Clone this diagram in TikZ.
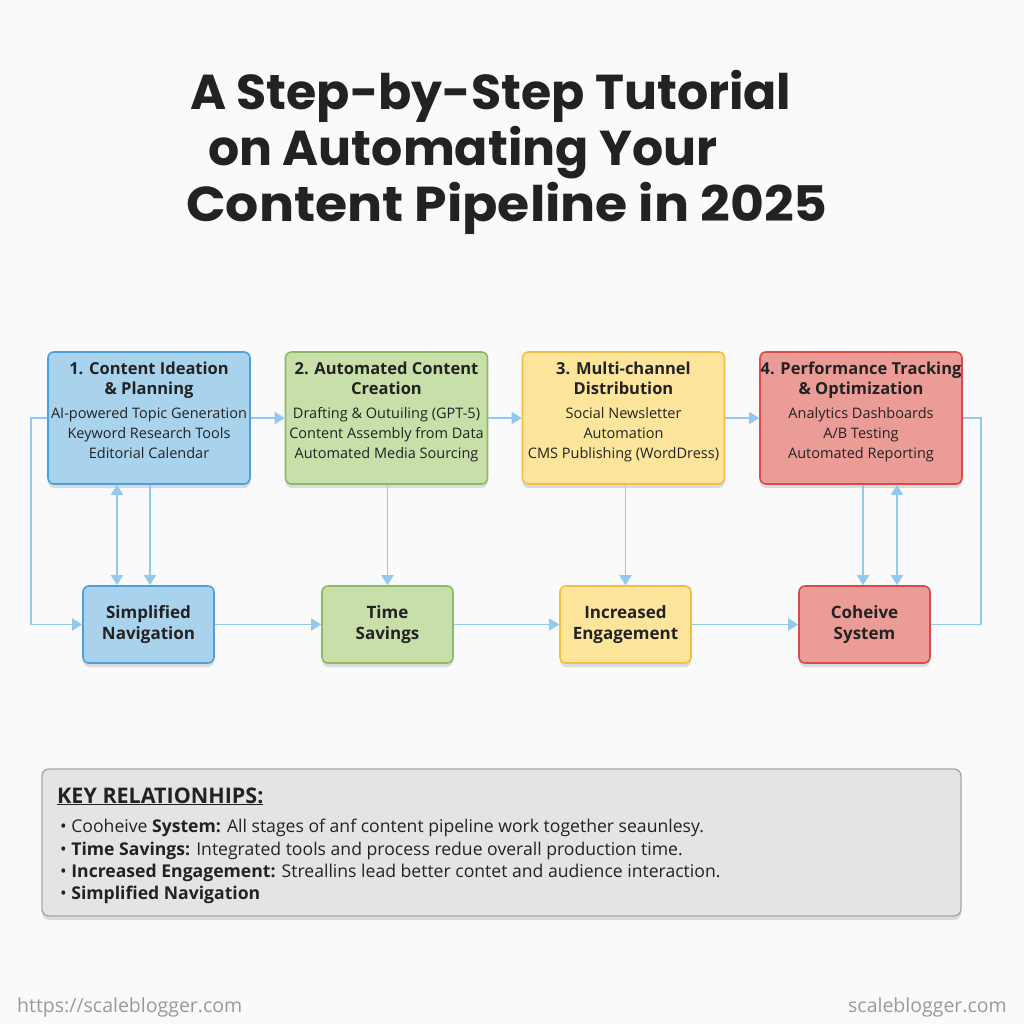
\documentclass[tikz,border=0pt]{standalone}
\usepackage{fontspec}
\setmainfont{Open Sans}
\newfontfamily\titlefont{Poppins}
\usetikzlibrary{arrows.meta,shadows,calc}
\definecolor{bg}{HTML}{FAFAFA}
\definecolor{txt}{HTML}{222222}
\definecolor{bluef}{HTML}{A9D2EC}
\definecolor{blued}{HTML}{4C9FD9}
\definecolor{greenf}{HTML}{C8DFAA}
\definecolor{greend}{HTML}{8DB868}
\definecolor{yellowf}{HTML}{FDE59B}
\definecolor{yellowd}{HTML}{F0BF45}
\definecolor{redf}{HTML}{EC9C97}
\definecolor{redd}{HTML}{D64C4A}
\definecolor{arrowc}{HTML}{93C9EC}
\definecolor{keyf}{HTML}{E4E4E4}
\definecolor{keyd}{HTML}{A8A8A8}
\definecolor{footc}{HTML}{9A9A9A}
\newcommand{\ttsz}{\bfseries\fontsize{16.5}{20}\selectfont}
\tikzset{
  titlestyle/.style={font=\titlefont\bfseries\fontsize{49}{56}\selectfont, text=txt, inner sep=0pt, anchor=base west},
  topbox/.style={draw, line width=1.6pt, rounded corners=6pt, minimum width=202pt, minimum height=132pt,
    align=center, text=txt, inner sep=0pt, font=\fontsize{14.5}{20}\selectfont,
    drop shadow={shadow xshift=0pt, shadow yshift=-4pt, opacity=0.12, fill=black}},
  botbox/.style={draw, line width=1.6pt, rounded corners=6pt, minimum width=131pt, minimum height=77pt,
    align=center, text=txt, inner sep=0pt, font=\bfseries\fontsize{17}{21}\selectfont,
    drop shadow={shadow xshift=0pt, shadow yshift=-4pt, opacity=0.12, fill=black}},
  keybox/.style={draw=keyd, fill=keyf, line width=1.4pt, rounded corners=7pt, minimum width=919pt, minimum height=147pt, inner sep=0pt,
    drop shadow={shadow xshift=0pt, shadow yshift=-4pt, opacity=0.12, fill=black}},
  keyhead/.style={font=\bfseries\fontsize{21.5}{24}\selectfont, text=txt, inner sep=0pt, anchor=base west},
  keytext/.style={font=\fontsize{17.6}{21}\selectfont, text=txt, inner sep=0pt, anchor=base west},
  foot/.style={font=\fontsize{19.5}{22}\selectfont, text=footc, inner sep=0pt},
  conn/.style={draw=arrowc, line width=1.8pt},
  arr/.style={conn, -{Triangle[length=10pt,width=12pt]}},
  darr/.style={conn, {Triangle[length=10pt,width=12pt]}-{Triangle[length=10pt,width=12pt]}}
}
\begin{document}
\begin{tikzpicture}[x=1pt,y=-1pt]
\fill[bg] (0,0) rectangle (1024,1024);
\useasboundingbox (0,0) rectangle (1024,1024);

% title
\node[titlestyle] (t1) at (190,110) {A Step-by-Step Tutorial};
\node[titlestyle] (t2) at (208,166) {on Automating Your};
\node[titlestyle] (t3) at (186,222) {\scalebox{1.063}[1]{Content Pipeline in 2025}};

% top boxes
\node[topbox, fill=bluef, draw=blued] (b1) at (149,418)
 {\ttsz 1. Content Ideation\\ \ttsz \& Planning\\[4pt]
  AI-powered Topic Generation\\ Keyword Research Tools\\ Editorial Calendar\\[-4pt]\mbox{}};
\node[topbox, fill=greenf, draw=greend] (b2) at (386.5,418)
 {\ttsz 2. Automated Content\\ \ttsz Creation\\[4pt]
  Drafting \& Outuiling (GPT-5)\\ Content Assembly from Data\\ Automated Media Sourcing\\[-4pt]\mbox{}};
\node[topbox, fill=yellowf, draw=yellowd] (b3) at (623.5,418)
 {\ttsz 3. Multi-channel\\ \ttsz Distribution\\[4pt]
  Social Newsletter\\ Automation\\ CMS Publishing (WordDress)\\[-4pt]\mbox{}};
\node[topbox, fill=redf, draw=redd] (b4) at (861,418)
 {\ttsz 4. Performance Tracking\\ \ttsz \& Optimization\\[4pt]
  Analytics Dashboards\\ A/B Testing\\ Automated Reporting\\[-4pt]\mbox{}};

% bottom boxes
\node[botbox, fill=bluef, draw=blued] (n1) at (148.5,624.5) {Simplified\\ Navigation};
\node[botbox, fill=greenf, draw=greend] (n2) at (387.5,624.5) {Time\\ Savings};
\node[botbox, fill=yellowf, draw=yellowd] (n3) at (625.5,624.5) {Increased\\ Engagement};
\node[botbox, fill=redf, draw=redd] (n4) at (864.5,624.5) {Coheive\\ System};

% connectors
\draw[arr] (b1.east) -- (b2.west);
\draw[arr] (b2.east) -- (b3.west);
\draw[arr] (b3.east) -- (b4.west);
\draw[arr] (n1.east) -- (n2.west);
\draw[arr] (n2.east) -- (n3.west);
\draw[arr] (n3.east) -- (n4.west);
\draw[arr] (b1.west) -- ++(-16,0) |- (n1.west);
\draw[conn] (n4.east) -- ++(50,0) |- (b4.east);

\coordinate (v1) at (117,0);
\coordinate (v2) at (150,0);
\coordinate (v3) at (863,0);
\coordinate (v4) at (897,0);
\draw[darr] (v1 |- b1.south) -- (v1 |- n1.north);
\draw[arr] (v2 |- b1.south) -- (v2 |- n1.north);
\draw[arr] (b2.south -| n2.north) -- (n2.north);
\draw[arr] (b3.south -| n3.north) -- (n3.north);
\draw[arr] (v3 |- b4.south) -- (v3 |- n4.north);
\draw[darr] (v4 |- b4.south) -- (v4 |- n4.north);

% key relationships
\node[keybox] (kb) at (501.5,842.5) {};
\node[keyhead] (kh) at (57,803) {\underline{KEY RELATIONHIPS:}};
\node[keytext] (k1) at (60,832) {• Cooheive \textbf{System:} All stages of anf content pipeline work together seaunlesy.};
\node[keytext] (k2) at (60,855) {• \textbf{Time Savings:} Integrated tools and process redue overall production time.};
\node[keytext] (k3) at (60,877) {• \textbf{Increased Engagement:} Streallins lead better contet and audience interaction.};
\node[keytext] (k4) at (60,899) {• \textbf{Simplified Navigation}};

% footer
\node[foot, anchor=base west] (f1) at (17,1012) {https://scaleblogger.com};
\node[foot, anchor=base east] (f2) at (1007,1012) {scaleblogger.com};
\end{tikzpicture}
\end{document}
